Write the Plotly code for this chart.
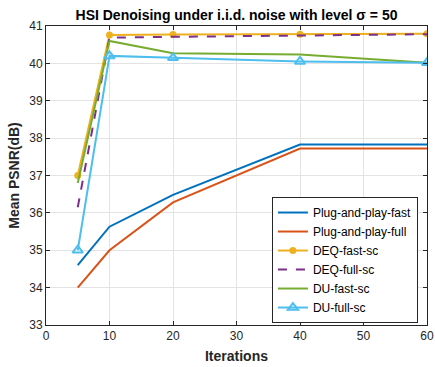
import plotly.graph_objects as go

iterations = [5, 10, 20, 40, 60]
pnp_fast = [34.6, 35.63, 36.48, 37.83, 37.83]
pnp_full = [34.0, 35.0, 36.28, 37.72, 37.72]
deq_fast = [37.0, 40.76, 40.77, 40.78, 40.79]
deq_full = [36.15, 40.69, 40.71, 40.75, 40.78]
du_fast = [36.8, 40.6, 40.27, 40.24, 40.02]
du_full = [35.0, 40.2, 40.15, 40.05, 40.02]

FONT = "Liberation Sans, Arial, sans-serif"

fig = go.Figure()
fig.add_trace(go.Scatter(x=iterations, y=pnp_fast, mode="lines", name="Plug-and-play-fast",
                         line=dict(color="#0072BD", width=2)))
fig.add_trace(go.Scatter(x=iterations, y=pnp_full, mode="lines", name="Plug-and-play-full",
                         line=dict(color="#D95319", width=2)))
fig.add_trace(go.Scatter(x=iterations, y=deq_fast, mode="lines+markers", name="DEQ-fast-sc",
                         line=dict(color="#EDB120", width=2),
                         marker=dict(symbol="circle", size=7, color="#EDB120")))
fig.add_trace(go.Scatter(x=iterations, y=deq_full, mode="lines", name="DEQ-full-sc",
                         line=dict(color="#7E2F8E", width=2, dash="dash")))
fig.add_trace(go.Scatter(x=iterations, y=du_fast, mode="lines", name="DU-fast-sc",
                         line=dict(color="#77AC30", width=2)))
fig.add_trace(go.Scatter(x=iterations, y=du_full, mode="lines+markers", name="DU-full-sc",
                         line=dict(color="#4DBEEE", width=2),
                         marker=dict(symbol="triangle-up-open", size=9, color="#4DBEEE",
                                     line=dict(width=2, color="#4DBEEE"))))

axis_common = dict(
    showline=True, linecolor="#262626", linewidth=1, mirror="allticks",
    ticks="inside", ticklen=4, tickcolor="#262626", showgrid=True,
    gridcolor="#e3e3e3", gridwidth=1, zeroline=False, automargin=False,
    tickfont=dict(family=FONT, size=12, color="#262626"),
)

fig.update_layout(
    width=435, height=367,
    margin=dict(l=46, r=8, t=26, b=42, autoexpand=False),
    paper_bgcolor="white", plot_bgcolor="white",
    title=dict(text="<b>HSI Denoising under i.i.d. noise with level σ = 50</b>",
               x=0.5, xref="paper", xanchor="center", y=1 - 15 / 367, yanchor="middle",
               font=dict(family=FONT, size=14, color="#000000")),
    xaxis=dict(range=[0, 60], dtick=10,
               title=dict(text="<b>Iterations</b>", font=dict(family=FONT, size=14, color="#262626"),
                          standoff=8),
               **axis_common),
    yaxis=dict(range=[33, 41], dtick=1,
               title=dict(text="<b>Mean PSNR(dB)</b>", font=dict(family=FONT, size=14, color="#262626"),
                          standoff=6),
               **axis_common),
    legend=dict(x=0.593, y=0.428, xanchor="left", yanchor="top",
                bgcolor="white", bordercolor="#262626", borderwidth=1,
                font=dict(family=FONT, size=12, color="#000000"),
                tracegroupgap=0, itemwidth=30),
    showlegend=True,
)

fig.write_html("out.html")
